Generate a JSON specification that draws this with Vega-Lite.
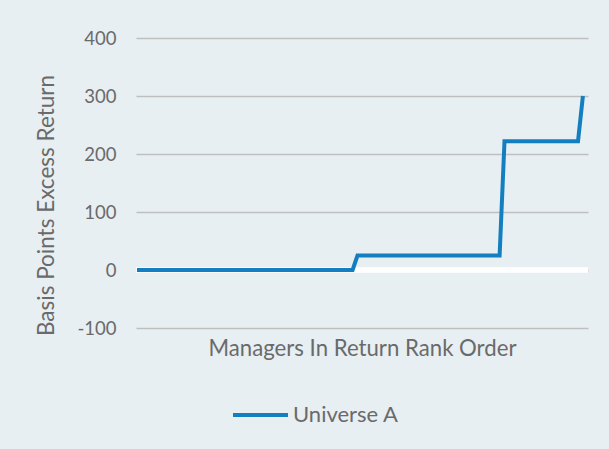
{
  "$schema": "https://vega.github.io/schema/vega-lite/v6.json",
  "autosize": {"type": "none"},
  "width": 452,
  "height": 290,
  "padding": {"left": 136, "top": 38, "right": 21, "bottom": 121},
  "background": "#e7eff3",
  "config": {
    "view": {"stroke": null},
    "font": "Lato"
  },
  "layer": [
    {
      "data": {"values": [{"y": 0}]},
      "mark": {"type": "rule", "color": "#ffffff", "strokeWidth": 5.5},
      "encoding": {
        "y": {
          "field": "y", "type": "quantitative",
          "scale": {"domain": [-100, 400], "nice": false},
          "axis": {
            "title": "Basis Points Excess Return",
            "values": [-100, 0, 100, 200, 300, 400],
            "labelExpr": "datum.value < 0 ? '-' + abs(datum.value) : '' + datum.value",
            "grid": true, "gridColor": "#bfbfbf", "gridWidth": 1.5,
            "domain": false, "ticks": false,
            "labelPadding": 20, "labelFontSize": 18.5, "labelColor": "#6a6a6a", "labelFont": "Lato",
            "titleFontSize": 22.5, "titleColor": "#6a6a6a", "titleFont": "Lato", "titleFontWeight": "normal",
            "titleAngle": 270, "titleAlign": "center", "titleBaseline": "alphabetic",
            "titleX": -83, "titleY": 167
          }
        }
      }
    },
    {
      "data": {"values": [
        {"x": 0, "y": 0, "series": "Universe A"},
        {"x": 1, "y": 0, "series": "Universe A"},
        {"x": 2, "y": 0, "series": "Universe A"},
        {"x": 3, "y": 0, "series": "Universe A"},
        {"x": 4, "y": 0, "series": "Universe A"},
        {"x": 5, "y": 0, "series": "Universe A"},
        {"x": 6, "y": 0, "series": "Universe A"},
        {"x": 7, "y": 0, "series": "Universe A"},
        {"x": 8, "y": 0, "series": "Universe A"},
        {"x": 9, "y": 0, "series": "Universe A"},
        {"x": 10, "y": 0, "series": "Universe A"},
        {"x": 11, "y": 0, "series": "Universe A"},
        {"x": 12, "y": 0, "series": "Universe A"},
        {"x": 13, "y": 0, "series": "Universe A"},
        {"x": 14, "y": 0, "series": "Universe A"},
        {"x": 15, "y": 0, "series": "Universe A"},
        {"x": 16, "y": 0, "series": "Universe A"},
        {"x": 17, "y": 0, "series": "Universe A"},
        {"x": 18, "y": 0, "series": "Universe A"},
        {"x": 19, "y": 0, "series": "Universe A"},
        {"x": 20, "y": 0, "series": "Universe A"},
        {"x": 21, "y": 0, "series": "Universe A"},
        {"x": 22, "y": 0, "series": "Universe A"},
        {"x": 23, "y": 0, "series": "Universe A"},
        {"x": 24, "y": 0, "series": "Universe A"},
        {"x": 25, "y": 0, "series": "Universe A"},
        {"x": 26, "y": 0, "series": "Universe A"},
        {"x": 27, "y": 0, "series": "Universe A"},
        {"x": 28, "y": 0, "series": "Universe A"},
        {"x": 29, "y": 0, "series": "Universe A"},
        {"x": 30, "y": 0, "series": "Universe A"},
        {"x": 31, "y": 0, "series": "Universe A"},
        {"x": 32, "y": 0, "series": "Universe A"},
        {"x": 33, "y": 0, "series": "Universe A"},
        {"x": 34, "y": 0, "series": "Universe A"},
        {"x": 35, "y": 0, "series": "Universe A"},
        {"x": 36, "y": 0, "series": "Universe A"},
        {"x": 37, "y": 0, "series": "Universe A"},
        {"x": 38, "y": 0, "series": "Universe A"},
        {"x": 39, "y": 0, "series": "Universe A"},
        {"x": 40, "y": 0, "series": "Universe A"},
        {"x": 41, "y": 0, "series": "Universe A"},
        {"x": 42, "y": 0, "series": "Universe A"},
        {"x": 43, "y": 0, "series": "Universe A"},
        {"x": 44, "y": 0, "series": "Universe A"},
        {"x": 45, "y": 25, "series": "Universe A"},
        {"x": 46, "y": 25, "series": "Universe A"},
        {"x": 47, "y": 25, "series": "Universe A"},
        {"x": 48, "y": 25, "series": "Universe A"},
        {"x": 49, "y": 25, "series": "Universe A"},
        {"x": 50, "y": 25, "series": "Universe A"},
        {"x": 51, "y": 25, "series": "Universe A"},
        {"x": 52, "y": 25, "series": "Universe A"},
        {"x": 53, "y": 25, "series": "Universe A"},
        {"x": 54, "y": 25, "series": "Universe A"},
        {"x": 55, "y": 25, "series": "Universe A"},
        {"x": 56, "y": 25, "series": "Universe A"},
        {"x": 57, "y": 25, "series": "Universe A"},
        {"x": 58, "y": 25, "series": "Universe A"},
        {"x": 59, "y": 25, "series": "Universe A"},
        {"x": 60, "y": 25, "series": "Universe A"},
        {"x": 61, "y": 25, "series": "Universe A"},
        {"x": 62, "y": 25, "series": "Universe A"},
        {"x": 63, "y": 25, "series": "Universe A"},
        {"x": 64, "y": 25, "series": "Universe A"},
        {"x": 65, "y": 25, "series": "Universe A"},
        {"x": 66, "y": 25, "series": "Universe A"},
        {"x": 67, "y": 25, "series": "Universe A"},
        {"x": 68, "y": 25, "series": "Universe A"},
        {"x": 69, "y": 25, "series": "Universe A"},
        {"x": 70, "y": 25, "series": "Universe A"},
        {"x": 71, "y": 25, "series": "Universe A"},
        {"x": 72, "y": 25, "series": "Universe A"},
        {"x": 73, "y": 25, "series": "Universe A"},
        {"x": 74, "y": 25, "series": "Universe A"},
        {"x": 75, "y": 222, "series": "Universe A"},
        {"x": 76, "y": 222, "series": "Universe A"},
        {"x": 77, "y": 222, "series": "Universe A"},
        {"x": 78, "y": 222, "series": "Universe A"},
        {"x": 79, "y": 222, "series": "Universe A"},
        {"x": 80, "y": 222, "series": "Universe A"},
        {"x": 81, "y": 222, "series": "Universe A"},
        {"x": 82, "y": 222, "series": "Universe A"},
        {"x": 83, "y": 222, "series": "Universe A"},
        {"x": 84, "y": 222, "series": "Universe A"},
        {"x": 85, "y": 222, "series": "Universe A"},
        {"x": 86, "y": 222, "series": "Universe A"},
        {"x": 87, "y": 222, "series": "Universe A"},
        {"x": 88, "y": 222, "series": "Universe A"},
        {"x": 89, "y": 222, "series": "Universe A"},
        {"x": 90, "y": 222, "series": "Universe A"},
        {"x": 91, "y": 300, "series": "Universe A"}
      ]},
      "mark": {"type": "line", "strokeWidth": 4, "strokeJoin": "miter"},
      "encoding": {
        "x": {
          "field": "x", "type": "quantitative",
          "scale": {"domain": [-0.2, 92.04], "nice": false, "zero": false},
          "axis": {
            "title": "Managers In Return Rank Order",
            "labels": false, "ticks": false, "grid": false, "domain": false,
            "titleFontSize": 22.2, "titleColor": "#6a6a6a", "titleFont": "Lato", "titleFontWeight": "normal",
            "titleBaseline": "alphabetic", "titleY": 27
          }
        },
        "y": {
          "field": "y", "type": "quantitative",
          "scale": {"domain": [-100, 400], "nice": false},
          "axis": {
            "title": "Basis Points Excess Return",
            "values": [-100, 0, 100, 200, 300, 400],
            "labelExpr": "datum.value < 0 ? '-' + abs(datum.value) : '' + datum.value",
            "grid": true, "gridColor": "#bfbfbf", "gridWidth": 1.5,
            "domain": false, "ticks": false,
            "labelPadding": 20, "labelFontSize": 18.5, "labelColor": "#6a6a6a", "labelFont": "Lato",
            "titleFontSize": 22.5, "titleColor": "#6a6a6a", "titleFont": "Lato", "titleFontWeight": "normal",
            "titleAngle": 270, "titleAlign": "center", "titleBaseline": "alphabetic",
            "titleX": -83, "titleY": 167
          }
        },
        "color": {
          "field": "series", "type": "nominal",
          "scale": {"range": ["#137fc0"]},
          "legend": {
            "title": null, "orient": "none", "legendX": 95, "legendY": 347.5,
            "symbolType": "stroke", "symbolSize": 3025, "symbolStrokeWidth": 4,
            "labelFontSize": 22, "labelColor": "#6a6a6a", "labelFont": "Lato", "labelOffset": 3,
            "padding": 0
          }
        }
      }
    }
  ]
}
